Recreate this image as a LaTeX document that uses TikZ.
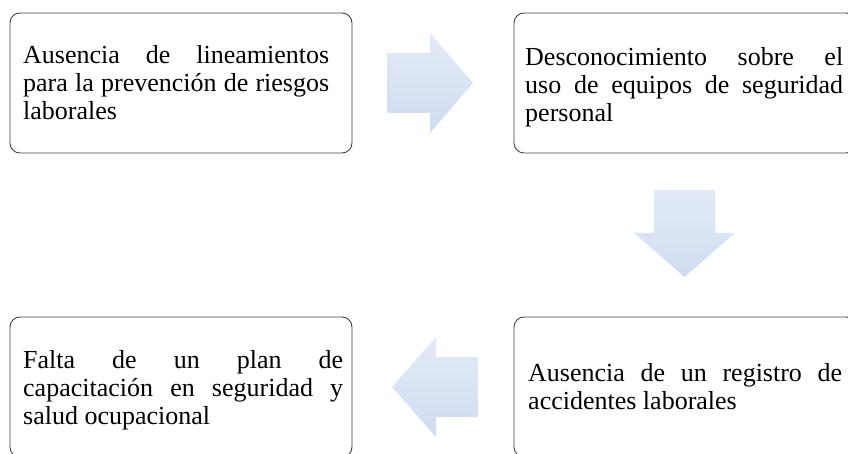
\documentclass[tikz,border=0pt]{standalone}
\usepackage{fontspec}
\setmainfont{Liberation Serif}
\usetikzlibrary{positioning}
\definecolor{boxline}{RGB}{64,64,64}
\definecolor{arrowtop}{RGB}{227,234,246}
\definecolor{arrowbot}{RGB}{207,221,241}
\tolerance=10000
\tikzstyle{box} = [draw=boxline, line width=0.9pt, rounded corners=10pt, minimum width=342pt, minimum height=140pt, inner sep=0pt, outer sep=0pt]
\tikzstyle{txt} = [inner sep=0pt, align=justify, font=\fontsize{26}{28}\selectfont]
\tikzstyle{blockarrow} = [top color=arrowtop, bottom color=arrowbot, draw=none]

\begin{document}
\begin{tikzpicture}[x=1pt, y=-1pt]
\useasboundingbox (0,0) rectangle (848,454);
\clip (0,0) rectangle (848,454);

% top row
\node[box] (b1) at (181,83) {};
\node[txt, text width=306pt, below right=32pt and 13pt of b1.north west] (t1)
  {Ausencia de lineamientos\linebreak para la prevención de riesgos\linebreak laborales};

\node[box] (b2) at (685,83) {};
\node[txt, text width=318pt, below right=34pt and 11pt of b2.north west] (t2)
  {Desconocimiento sobre el\linebreak uso de equipos de seguridad\linebreak personal};

% bottom row
\node[box] (b3) at (181,387) {};
\node[txt, text width=320pt, below right=33pt and 13pt of b3.north west] (t3)
  {Falta de un plan de\linebreak capacitación en seguridad y\linebreak salud ocupacional};

\node[box] (b4) at (685,387) {};
\node[txt, text width=314pt, below right=46pt and 14pt of b4.north west] (t4)
  {Ausencia de un registro de\linebreak accidentes laborales};

% block arrows
\shade[blockarrow] (387,53) -- (430,53) -- (430,33) -- (473,83) -- (430,133) -- (430,113) -- (387,113) -- cycle;
\shade[blockarrow] (654,190) -- (715,190) -- (715,233) -- (735,233) -- (684.5,277) -- (634,233) -- (654,233) -- cycle;
\shade[blockarrow] (478,357) -- (436,357) -- (436,337) -- (392,387) -- (436,437) -- (436,417) -- (478,417) -- cycle;
\end{tikzpicture}
\end{document}
